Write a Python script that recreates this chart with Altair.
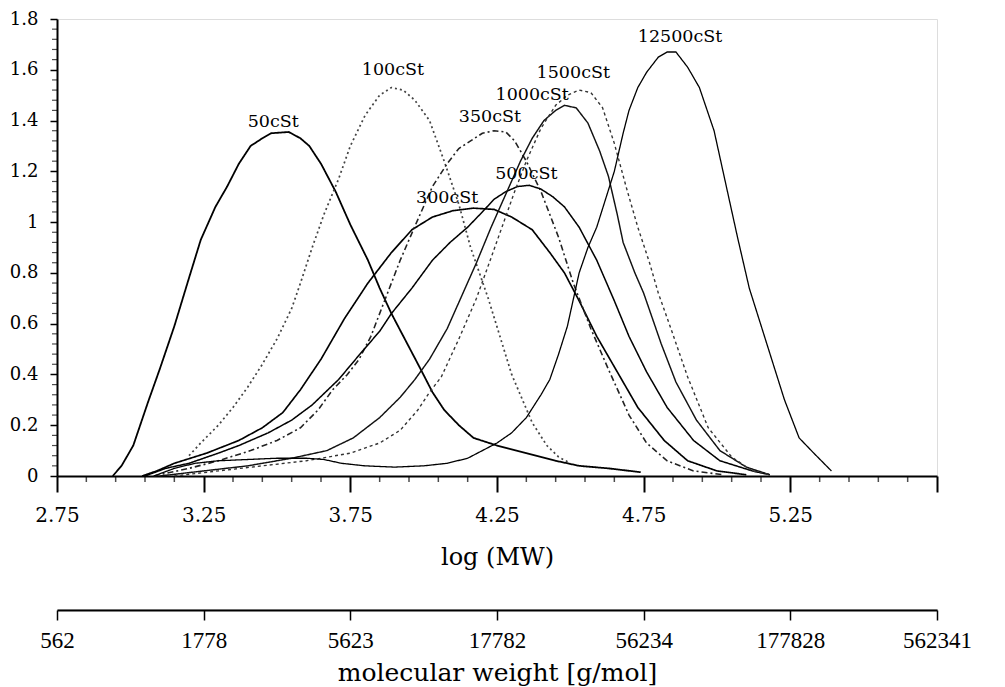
import altair as alt
import pandas as pd

# ---------------- data ----------------
series_names = ["50cSt", "100cSt", "300cSt", "350cSt", "500cSt", "1000cSt", "1500cSt", "12500cSt"]

x_50 = [2.94, 2.97, 3.01, 3.06, 3.10, 3.15, 3.20, 3.24, 3.29, 3.33, 3.37, 3.41, 3.45, 3.48, 3.54, 3.58,
        3.61, 3.65, 3.70, 3.75, 3.81, 3.85, 3.89, 3.94, 3.99, 4.03, 4.07, 4.12, 4.17, 4.25, 4.35, 4.45,
        4.53, 4.63, 4.74]
y_50 = [0.0, 0.04, 0.12, 0.29, 0.42, 0.59, 0.78, 0.93, 1.06, 1.14, 1.23, 1.30, 1.33, 1.35, 1.355, 1.33,
        1.30, 1.23, 1.12, 0.99, 0.85, 0.74, 0.64, 0.53, 0.42, 0.33, 0.26, 0.20, 0.15, 0.12, 0.09, 0.06,
        0.04, 0.03, 0.015]

x_100 = [3.20, 3.24, 3.30, 3.35, 3.40, 3.45, 3.50, 3.55, 3.58, 3.62, 3.66, 3.71, 3.75, 3.80, 3.85, 3.89,
         3.93, 3.97, 4.02, 4.07, 4.12, 4.16, 4.22, 4.26, 4.30, 4.37, 4.42, 4.46, 4.50]
y_100 = [0.08, 0.13, 0.20, 0.27, 0.35, 0.44, 0.54, 0.66, 0.76, 0.90, 1.03, 1.17, 1.30, 1.42, 1.50, 1.53,
         1.52, 1.48, 1.40, 1.24, 1.07, 0.90, 0.70, 0.55, 0.40, 0.21, 0.12, 0.075, 0.05]

x_300 = [3.04, 3.09, 3.15, 3.26, 3.37, 3.45, 3.52, 3.58, 3.65, 3.69, 3.73, 3.81, 3.89, 3.96, 4.03, 4.10,
         4.17, 4.24, 4.30, 4.37, 4.43, 4.48, 4.53, 4.59, 4.65, 4.73, 4.82, 4.90, 5.00, 5.10]
y_300 = [0.0, 0.02, 0.05, 0.09, 0.14, 0.19, 0.25, 0.34, 0.46, 0.54, 0.62, 0.76, 0.88, 0.97, 1.02, 1.045,
         1.055, 1.05, 1.02, 0.97, 0.88, 0.80, 0.69, 0.55, 0.43, 0.27, 0.14, 0.06, 0.02, 0.005]

x_350 = [3.08, 3.20, 3.30, 3.41, 3.50, 3.58, 3.64, 3.69, 3.74, 3.78, 3.82, 3.86, 3.92, 3.98, 4.03, 4.08,
         4.12, 4.16, 4.20, 4.24, 4.28, 4.31, 4.35, 4.40, 4.46, 4.51, 4.57, 4.63, 4.70, 4.76, 4.83, 4.92, 5.02]
y_350 = [0.0, 0.03, 0.06, 0.10, 0.14, 0.19, 0.26, 0.34, 0.40, 0.46, 0.55, 0.67, 0.85, 1.01, 1.14, 1.23,
         1.29, 1.32, 1.35, 1.36, 1.355, 1.32, 1.24, 1.12, 0.94, 0.76, 0.58, 0.42, 0.24, 0.13, 0.06, 0.02, 0.005]

x_500 = [3.05, 3.12, 3.20, 3.30, 3.37, 3.47, 3.55, 3.62, 3.71, 3.79, 3.85, 3.89, 3.96, 4.03, 4.09, 4.15,
         4.20, 4.24, 4.28, 4.32, 4.36, 4.40, 4.44, 4.48, 4.53, 4.59, 4.65, 4.70, 4.76, 4.83, 4.92, 5.01,
         5.12, 5.18]
y_500 = [0.0, 0.03, 0.05, 0.09, 0.12, 0.17, 0.22, 0.28, 0.38, 0.49, 0.57, 0.64, 0.74, 0.85, 0.92, 0.98,
         1.04, 1.09, 1.12, 1.14, 1.145, 1.13, 1.10, 1.06, 0.98, 0.85, 0.69, 0.55, 0.41, 0.27, 0.14, 0.06,
         0.02, 0.005]

x_1000 = [3.10, 3.25, 3.40, 3.55, 3.67, 3.76, 3.85, 3.92, 3.97, 4.02, 4.08, 4.13, 4.18, 4.23, 4.28, 4.33,
          4.37, 4.41, 4.45, 4.48, 4.52, 4.56, 4.60, 4.63, 4.66, 4.68, 4.72, 4.75, 4.81, 4.86, 4.93, 5.01,
          5.10, 5.18]
y_1000 = [0.0, 0.02, 0.04, 0.07, 0.10, 0.15, 0.23, 0.31, 0.38, 0.46, 0.58, 0.71, 0.84, 0.98, 1.11, 1.24,
          1.33, 1.40, 1.44, 1.46, 1.45, 1.39, 1.28, 1.18, 1.03, 0.92, 0.80, 0.72, 0.52, 0.37, 0.22, 0.10,
          0.035, 0.005]

x_1500 = [3.15, 3.30, 3.45, 3.60, 3.75, 3.85, 3.92, 3.98, 4.02, 4.06, 4.12, 4.18, 4.23, 4.27, 4.31, 4.35,
          4.40, 4.45, 4.49, 4.53, 4.57, 4.61, 4.65, 4.69, 4.73, 4.77, 4.80, 4.84, 4.90, 4.97, 5.05, 5.12, 5.18]
y_1500 = [0.0, 0.02, 0.04, 0.06, 0.09, 0.13, 0.18, 0.26, 0.33, 0.39, 0.54, 0.70, 0.86, 0.99, 1.12, 1.24,
          1.37, 1.46, 1.50, 1.52, 1.51, 1.45, 1.31, 1.14, 0.98, 0.84, 0.72, 0.59, 0.39, 0.19, 0.075, 0.02, 0.005]

x_12500 = [3.08, 3.15, 3.22, 3.30, 3.40, 3.50, 3.60, 3.66, 3.72, 3.80, 3.90, 4.00, 4.08, 4.15, 4.20, 4.25,
           4.30, 4.35, 4.40, 4.43, 4.46, 4.49, 4.53, 4.56, 4.59, 4.62, 4.65, 4.68, 4.70, 4.73, 4.76, 4.80,
           4.83, 4.86, 4.90, 4.94, 4.99, 5.03, 5.07, 5.11, 5.17, 5.23, 5.28, 5.33, 5.39]
y_12500 = [0.0, 0.03, 0.05, 0.06, 0.065, 0.07, 0.07, 0.065, 0.05, 0.04, 0.035, 0.04, 0.05, 0.07, 0.10, 0.13,
           0.17, 0.23, 0.32, 0.38, 0.48, 0.59, 0.80, 0.90, 0.98, 1.09, 1.20, 1.35, 1.44, 1.53, 1.59, 1.65,
           1.67, 1.67, 1.61, 1.53, 1.36, 1.15, 0.94, 0.74, 0.52, 0.30, 0.15, 0.09, 0.02]

label_text = ["50cSt", "100cSt", "300cSt", "350cSt", "500cSt", "1000cSt", "1500cSt", "12500cSt"]
label_x = [3.487, 3.895, 4.08, 4.226, 4.35, 4.37, 4.51, 4.874]
label_y = [1.394, 1.60, 1.094, 1.413, 1.19, 1.50, 1.587, 1.73]

x_domain = [2.75, 5.75]
y_domain = [0, 1.8]
x_major_ticks = [2.75, 3.25, 3.75, 4.25, 4.75, 5.25, 5.75]
y_major_ticks = [0, 0.2, 0.4, 0.6, 0.8, 1.0, 1.2, 1.4, 1.6, 1.8]
x_minor_ticks = [round(2.75 + 0.1 * k, 2) for k in range(31) if k % 5 != 0]
y_minor_ticks = [round(0.04 * k, 2) for k in range(46) if k % 5 != 0]
mw_tick_pos = [2.75, 3.25, 3.75, 4.25, 4.75, 5.25, 5.75]
mw_tick_labels = ["562", "1778", "5623", "17782", "56234", "177828", "562341"]

# ---------------- tables ----------------
xs_all = [x_50, x_100, x_300, x_350, x_500, x_1000, x_1500, x_12500]
ys_all = [y_50, y_100, y_300, y_350, y_500, y_1000, y_1500, y_12500]
rows = []
for name, xs, ys in zip(series_names, xs_all, ys_all):
    for i, (a, b) in enumerate(zip(xs, ys)):
        rows.append({"series": name, "logmw": a, "w": b, "i": i})
df = pd.DataFrame(rows)
labels_df = pd.DataFrame({"t": label_text, "x": label_x, "y": label_y})
xminor_df = pd.DataFrame({"v": x_minor_ticks})
yminor_df = pd.DataFrame({"v": y_minor_ticks})
mw_df = pd.DataFrame({"v": mw_tick_pos})

# ---------------- styles ----------------
SERIF = "DejaVu Serif"
dash_range = [[1, 0], [2, 3], [1, 0], [6, 3, 2, 3], [1, 0], [1, 0], [3, 3], [1, 0]]
width_range = [1.8, 1.3, 2.7, 1.4, 3.2, 1.7, 1.4, 1.8]
color_range = ["#000000", "#444444", "#000000", "#222222", "#000000", "#111111", "#333333", "#000000"]

x_axis = alt.Axis(
    values=x_major_ticks,
    labelExpr="datum.value < 5.7 ? format(datum.value, '.2f') : ''",
    tickSize=16, tickWidth=2, tickColor="black", domainColor="black", domainWidth=2,
    labelFont=SERIF, labelFontSize=20, labelColor="black", labelPadding=13,
    labelFlush=False, labelOverlap=False, grid=False,
    title="log (MW)", titleFont=SERIF, titleFontSize=24, titleFontWeight="normal",
    titleColor="black", titlePadding=20,
)
y_axis = alt.Axis(
    values=y_major_ticks,
    labelExpr="format(datum.value, '.1~f')",
    tickSize=7, tickWidth=1.5, tickColor="black", domainColor="black", domainWidth=2,
    labelFont=SERIF, labelFontSize=18, labelColor="black", labelPadding=12,
    labelOverlap=False, grid=False, title=None,
)

lines = alt.Chart(df).mark_line(interpolate="linear").encode(
    x=alt.X("logmw:Q", scale=alt.Scale(domain=x_domain, nice=False, zero=False), axis=x_axis),
    y=alt.Y("w:Q", scale=alt.Scale(domain=y_domain, nice=False), axis=y_axis),
    detail="series:N",
    order="i:Q",
    color=alt.Color("series:N", scale=alt.Scale(domain=series_names, range=color_range), legend=None),
    strokeDash=alt.StrokeDash("series:N", scale=alt.Scale(domain=series_names, range=dash_range), legend=None),
    strokeWidth=alt.StrokeWidth("series:N", scale=alt.Scale(domain=series_names, range=width_range), legend=None),
)

xminor = alt.Chart(xminor_df).mark_tick(orient="vertical", size=6, thickness=1.5, color="black",
                                        yOffset=3).encode(x="v:Q", y=alt.datum(0))
yminor = alt.Chart(yminor_df).mark_tick(orient="horizontal", size=5, thickness=1.2, color="black",
                                        xOffset=-2.5).encode(y="v:Q", x=alt.datum(2.75))

texts = alt.Chart(labels_df).mark_text(font=SERIF, fontSize=17.5, color="black", align="center",
                                       baseline="middle").encode(
    x=alt.X("x:Q"), y=alt.Y("y:Q"), text="t:N"
)

main = alt.layer(lines, xminor, yminor, texts).properties(width=880, height=457)

mw_axis = alt.Axis(
    values=mw_tick_pos,
    labelExpr="[" + ",".join(f"'{s}'" for s in mw_tick_labels) + "][round((datum.value - 2.75) / 0.5)]",
    tickSize=10, tickWidth=1.5, tickColor="black", domainColor="black", domainWidth=2,
    labelFont="Liberation Serif", labelFontSize=23, labelColor="black", labelPadding=9,
    labelFlush=False, labelOverlap=False, grid=False,
    title="molecular weight [g/mol]", titleFont=SERIF, titleFontSize=25, titleFontWeight="normal",
    titleColor="black", titlePadding=8,
)
second = alt.Chart(mw_df).mark_point(opacity=0).encode(
    x=alt.X("v:Q", scale=alt.Scale(domain=x_domain, nice=False, zero=False), axis=mw_axis)
).properties(width=880, height=1)

chart = alt.vconcat(main, second, spacing=36).resolve_scale(x="independent").properties(
    padding={"left": 0, "top": 1, "right": 5, "bottom": 0}
).configure_view(stroke=None).configure(background="white")

chart.save("out.html", embed_options={"renderer": "svg", "actions": False})
